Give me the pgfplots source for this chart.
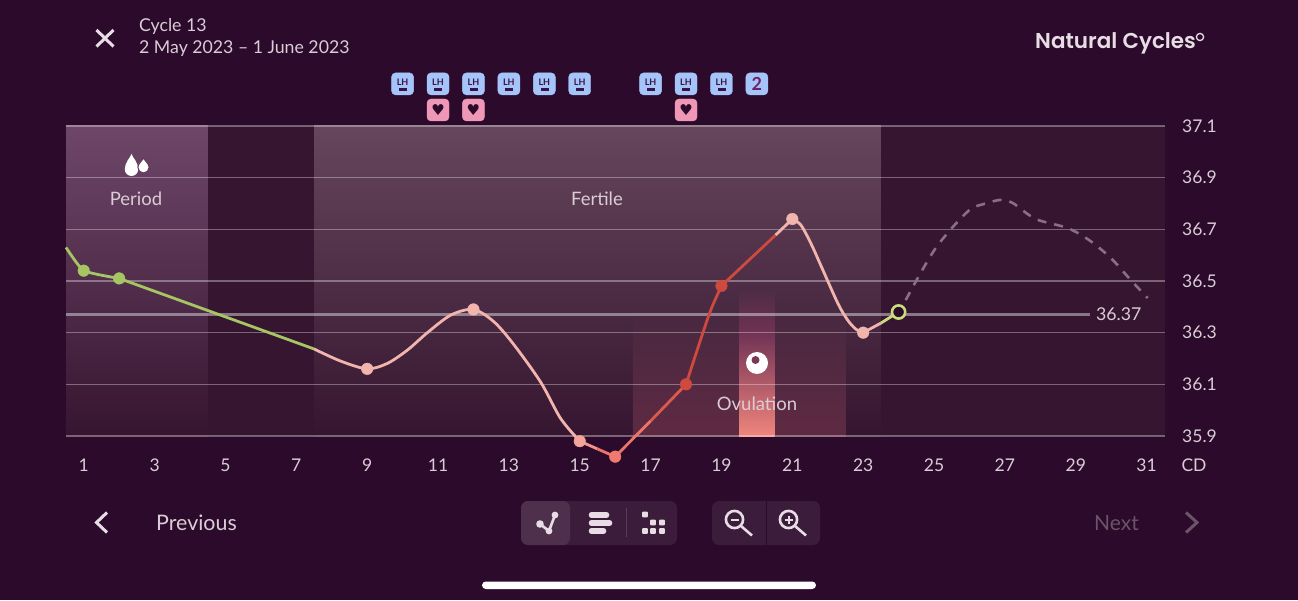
\documentclass[border=0pt]{standalone}
\usepackage{fontspec}
\usepackage{pgfplots}
\pgfplotsset{compat=1.18}
\setmainfont{Lato}
\newfontfamily\brandfont{Poppins SemiBold}
\newfontfamily\symfont{DejaVu Sans}
\definecolor{bgc}{HTML}{2B0A2B}
\definecolor{plotbg}{HTML}{361530}
\definecolor{gridc}{HTML}{8A6E88}
\definecolor{labelc}{HTML}{DACDD6}
\definecolor{greenc}{HTML}{A5C663}
\definecolor{pinkc}{HTML}{F2B5AD}
\definecolor{redc}{HTML}{CF4A3E}
\definecolor{salmonc}{HTML}{EE7468}
\definecolor{ringc}{HTML}{C9DC7C}
\definecolor{badgeblue}{HTML}{A4C4FA}
\definecolor{badgepink}{HTML}{EF97B6}
\definecolor{inkc}{HTML}{3A1440}
\definecolor{twoc}{HTML}{6A2463}
\definecolor{toolc}{HTML}{3C1C3B}
\definecolor{toolsel}{HTML}{4E304C}
\definecolor{iconc}{HTML}{E8DDE4}
\definecolor{perTop}{HTML}{6E4768}
\definecolor{ferTop}{HTML}{66465C}
\definecolor{winTop}{HTML}{492841}
\definecolor{winBot}{HTML}{5E2A42}
\definecolor{dayTop}{HTML}{4D2C45}
\definecolor{ovMid}{HTML}{703254}
\definecolor{ovBot}{HTML}{F0857D}
\definecolor{midpink}{HTML}{F2968C}
\definecolor{midred}{HTML}{DC5A4C}
\definecolor{mark15}{HTML}{F5A49B}
\definecolor{mark16}{HTML}{F07A70}
\definecolor{dropedge}{HTML}{603E5C}
\definecolor{ovdot}{HTML}{7A3854}
\definecolor{dimc}{HTML}{6C5468}
\definecolor{divc}{HTML}{5A3D58}
\pgfdeclareplotmark{lhbadge}{%
  \fill[badgeblue,rounded corners=4pt] (-11pt,-11pt) rectangle (11pt,11pt);
  \node[text=inkc,inner sep=0pt,font=\fontsize{9}{9}\selectfont\bfseries] at (0pt,1.5pt) {LH};
  \fill[inkc] (-3.5pt,-6pt) rectangle (3.5pt,-4.6pt);
}
\pgfdeclareplotmark{twobadge}{%
  \fill[badgeblue,rounded corners=4pt] (-11pt,-11pt) rectangle (11pt,11pt);
  \node[text=twoc,inner sep=0pt,font=\fontsize{18}{18}\selectfont\bfseries] at (0pt,0pt) {2};
}
\pgfdeclareplotmark{heartbadge}{%
  \fill[badgepink,rounded corners=4pt] (-11pt,-11pt) rectangle (11pt,11pt);
  \node[text=bgc,inner sep=0pt,font=\fontsize{15}{15}\symfont] at (0pt,0pt) {♥};
}
\newcommand{\dropshape}[4]{% cx, top, r, h
  (#1,#2) .. controls ({#1+0.25*#3},{#2+0.2*#4}) and ({#1+#3},{#2+0.38*#4}) ..
  ({#1+#3},{#2+#4-#3}) .. controls ({#1+#3},{#2+#4-0.45*#3}) and ({#1+0.55*#3},{#2+#4}) ..
  (#1,{#2+#4}) .. controls ({#1-0.55*#3},{#2+#4}) and ({#1-#3},{#2+#4-0.45*#3}) ..
  ({#1-#3},{#2+#4-#3}) .. controls ({#1-#3},{#2+0.38*#4}) and ({#1-0.25*#3},{#2+0.2*#4}) .. cycle
}
\begin{document}
\begin{tikzpicture}[x=1pt,y=1pt]
\path[use as bounding box,fill=bgc] (0,0) rectangle (1298,600);
\begin{axis}[
  at={(66pt,164pt)},anchor=south west,
  scale only axis,width=1099pt,height=310pt,
  xmin=0.5,xmax=31.52,ymin=35.9,ymax=37.1,
  clip=false,
  axis line style={draw=none},
  major tick length=0pt,
  axis background/.style={fill=plotbg},
  xtick={1,3,...,31},
  ytick={35.9,36.1,36.3,36.5,36.7,36.9,37.1},
  yticklabel pos=right,
  /pgf/number format/assume math mode=true,
  /pgf/number format/fixed,/pgf/number format/fixed zerofill,
  yticklabel style={/pgf/number format/precision=1,anchor=west,xshift=17pt,inner sep=0pt,text=labelc,font=\fontsize{17.5}{17.5}\selectfont},
  xticklabel style={/pgf/number format/precision=0,anchor=center,yshift=-29pt,inner sep=0pt,text=labelc,font=\fontsize{17.5}{17.5}\selectfont},
]
% bands
\addplot[draw=none,shade,top color=perTop,bottom color=plotbg] coordinates {(0.5,35.9)(0.5,37.1)(4.5,37.1)(4.5,35.9)} -- cycle;
\addplot[draw=none,shade,top color=ferTop,bottom color=plotbg] coordinates {(7.5,35.9)(7.5,37.1)(23.5,37.1)(23.5,35.9)} -- cycle;
\addplot[draw=none,shade,top color=winTop,bottom color=winBot] coordinates {(16.5,35.9)(16.5,36.38)(19.5,36.38)(19.5,35.9)} -- cycle;
\addplot[draw=none,shade,top color=winTop,bottom color=winBot] coordinates {(20.5,35.9)(20.5,36.38)(22.5,36.38)(22.5,35.9)} -- cycle;
\addplot[draw=none,shade,top color=dayTop,bottom color=ovMid] coordinates {(19.5,36.3)(19.5,36.47)(20.5,36.47)(20.5,36.3)} -- cycle;
\addplot[draw=none,shade,top color=ovMid,bottom color=ovBot] coordinates {(19.5,35.9)(19.5,36.3)(20.5,36.3)(20.5,35.9)} -- cycle;
% grid
\pgfplotsinvokeforeach{35.9,36.1,36.3,36.5,36.7,36.9,37.1}{
  \addplot[white,opacity=0.34,line width=1.4pt] coordinates {(0.5,#1)(31.52,#1)};
}
% baseline
\addplot[white,opacity=0.42,line width=3.4pt] coordinates {(0.5,36.37)(29.4,36.37)};
% projected
\addplot[gridc,line width=2.6pt,dash pattern=on 9pt off 8pt,smooth,tension=0.5] coordinates {(24.2,36.426)(24.62,36.531)(25.05,36.628)(25.53,36.709)(26.04,36.779)(26.46,36.80)(26.88,36.814)(27.22,36.802)(27.87,36.74)(28.77,36.705)(29.37,36.659)(29.99,36.589)(30.55,36.504)(31.03,36.434)};
% curve
\addplot[greenc,line width=2.8pt,smooth,tension=0.3] coordinates {(0.5,36.63)(1,36.54)(2,36.51)};
\addplot[greenc,line width=2.8pt] coordinates {(2,36.51)(7.5,36.237)};
\addplot[pinkc,line width=2.8pt,smooth,tension=0.5] coordinates {(7.5,36.237)(8.25,36.19)(9,36.16)(9.57,36.181)(10.14,36.233)(10.7,36.30)(11.36,36.368)(12,36.39)(12.58,36.342)(13.15,36.252)(13.9,36.108)(14.46,35.968)(15,35.88)};
\addplot[midpink,line width=2.8pt] coordinates {(15,35.88)(15.5,35.85)};
\addplot[salmonc,line width=2.8pt] coordinates {(15.5,35.85)(16,35.82)(17,35.958)};
\addplot[midred,line width=2.8pt] coordinates {(17,35.958)(18,36.10)};
\addplot[redc,line width=2.8pt,smooth,tension=0.5] coordinates {(18,36.10)(18.41,36.272)(18.7,36.388)(19,36.481)};
\addplot[redc,line width=2.8pt] coordinates {(19,36.481)(20.53,36.678)};
\addplot[pinkc,line width=2.8pt] coordinates {(20.53,36.678)(21,36.74)};
\addplot[pinkc,line width=2.8pt,smooth,tension=0.5] coordinates {(21,36.74)(21.24,36.717)(21.52,36.647)(21.8,36.562)(22.28,36.415)(22.56,36.349)(22.79,36.314)(23,36.30)};
\addplot[pinkc,line width=2.8pt] coordinates {(23,36.30)(23.5,36.337)};
\addplot[ringc,line width=2.8pt] coordinates {(23.5,36.337)(24,36.38)};
% points
\addplot[only marks,mark=*,mark size=5.8pt,greenc] coordinates {(1,36.54)(2,36.51)};
\addplot[only marks,mark=*,mark size=5.8pt,pinkc] coordinates {(9,36.16)(12,36.39)(21,36.74)(23,36.30)};
\addplot[only marks,mark=*,mark size=5.8pt,mark15] coordinates {(15,35.88)};
\addplot[only marks,mark=*,mark size=5.8pt,mark16] coordinates {(16,35.82)};
\addplot[only marks,mark=*,mark size=5.8pt,redc] coordinates {(18,36.10)(19,36.481)};
\addplot[only marks,mark=*,mark size=6.6pt,mark options={draw=ringc,fill=bgc,line width=2.6pt}] coordinates {(24,36.38)};
% test badges
\addplot[only marks,mark=lhbadge] coordinates {(10,37.263)(11,37.263)(12,37.263)(13,37.263)(14,37.263)(15,37.263)(17,37.263)(18,37.263)(19,37.263)};
\addplot[only marks,mark=twobadge] coordinates {(20,37.263)};
\addplot[only marks,mark=heartbadge] coordinates {(11,37.162)(12,37.162)(18,37.162)};
\end{axis}
\begin{scope}[shift={(0pt,600pt)},x=1pt,y=-1pt]
\def\lab{\fontsize{17.7}{17.7}\selectfont}
% header
\draw[iconc,line width=3pt] (96.5,30) -- (113.5,46.5) (113.5,30) -- (96.5,46.5);
\node[anchor=west,inner sep=0pt,text=labelc,font=\lab] at (139,27) {Cycle 13};
\node[anchor=west,inner sep=0pt,text=labelc,font=\lab] at (139,49) {2 May 2023 – 1 June 2023};
\node[anchor=west,inner sep=0pt,text=iconc,font=\fontsize{21.5}{21.5}\brandfont] at (1035,43) {Natural Cycles};
\draw[iconc,line width=1.3pt] (1200,37) circle (3.6);
% band labels
\fill[white] \dropshape{131.5}{154}{6.7}{22};
\fill[white,draw=dropedge,line width=1pt] \dropshape{143.5}{158}{5.6}{15};
\node[text=labelc,inner sep=0pt,font=\fontsize{18.5}{18.5}\selectfont] at (136,199) {Period};
\node[text=labelc,inner sep=0pt,font=\fontsize{18.5}{18.5}\selectfont] at (597,199) {Fertile};
\node[text=labelc,inner sep=0pt,font=\fontsize{18.5}{18.5}\selectfont] at (757,404) {Ovulation};
\fill[white] (757,363) circle (11);
\fill[ovdot] (755.5,360) circle (4);
\node[anchor=west,inner sep=0pt,text=labelc,font=\fontsize{17.7}{17.7}\selectfont] at (1096,314.5) {36.37};
\node[anchor=center,inner sep=0pt,text=labelc,font=\fontsize{17.5}{17.5}\selectfont] at (1194,465) {CD};
% bottom nav
\draw[iconc,line width=3pt] (107,512.5) -- (96.5,522.5) -- (107,532.5);
\node[anchor=west,inner sep=0pt,text=labelc,font=\fontsize{21.4}{21.4}\selectfont] at (156,523) {Previous};
\node[anchor=west,inner sep=0pt,text=dimc,font=\fontsize{21}{21}\selectfont] at (1094,523) {Next};
\draw[dimc,line width=3pt] (1186,512.5) -- (1197,522.5) -- (1186,532.5);
% toolbar
\fill[toolc,rounded corners=7pt] (521,501) rectangle (677,545);
\fill[toolsel,rounded corners=7pt] (521,501) rectangle (570,545);
\draw[iconc,line width=2.6pt] (540,524) -- (549,531) -- (555,515);
\fill[iconc] (540,524) circle (3.8) (549,531) circle (3.4) (555,515) circle (3.4);
\draw[iconc,line width=5.6pt,line cap=round] (591.5,515) -- (606.5,515) (591.5,523) -- (609.5,523) (591.5,531) -- (603.5,531);
\draw[divc,line width=1pt] (626.5,508) -- (626.5,537);
\foreach \px/\py in {645/514.5,653/522.5,662/522.5,645/531,653/531,662/531}{
  \fill[iconc,rounded corners=1pt] (\px-2.9,\py-2.9) rectangle (\px+2.9,\py+2.9);
}
\fill[toolc,rounded corners=7pt] (712,501) rectangle (820,545);
\draw[bgc,line width=1pt] (766.5,501) -- (766.5,545);
\draw[iconc,line width=2.6pt] (734.5,519.5) circle (8.6) (741,526) -- (752,535.5);
\draw[iconc,line width=2pt] (730.5,519.5) -- (738.5,519.5);
\draw[iconc,line width=2.6pt] (788.5,519.5) circle (8.6) (795,526) -- (806,535.5);
\draw[iconc,line width=2pt] (784.5,519.5) -- (792.5,519.5) (788.5,515.5) -- (788.5,523.5);
% home indicator
\fill[white,rounded corners=3.8pt] (482,581.5) rectangle (816,589);
\end{scope}
\end{tikzpicture}
\end{document}
